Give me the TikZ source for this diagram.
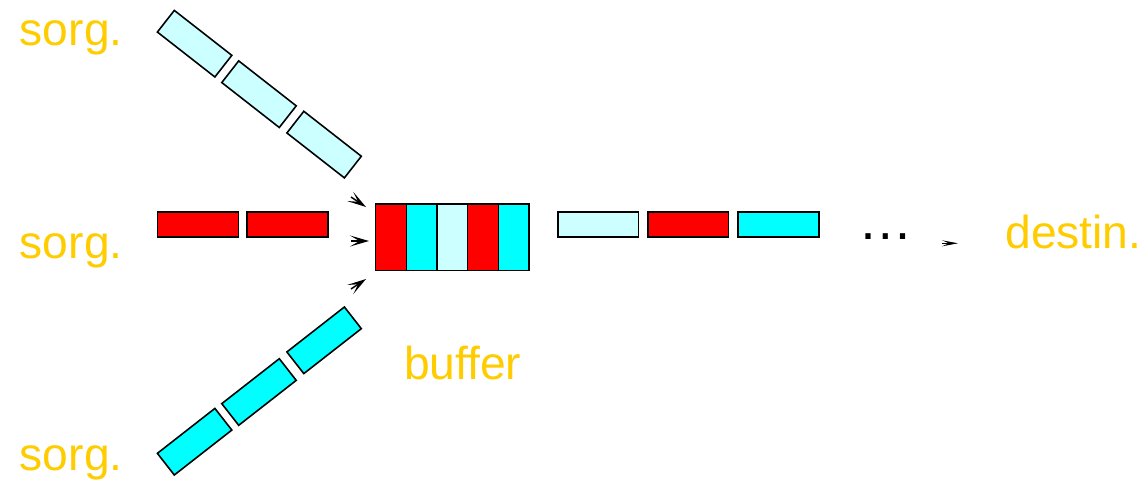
\documentclass[tikz,border=0pt]{standalone}
\usepackage{fontspec}
\setmainfont{Liberation Sans}
\usetikzlibrary{arrows.meta}
\definecolor{lbl}{HTML}{FFCC00}
\definecolor{pktred}{HTML}{FF0000}
\definecolor{pktcyan}{HTML}{00FFFF}
\definecolor{pktlight}{HTML}{CCFFFF}
\begin{document}
\begin{tikzpicture}[x=0.02cm,y=-0.02cm,
  pkt/.style={draw=black, line width=0.9pt, minimum width=1.62cm, minimum height=0.50cm, inner sep=0pt},
  rpkt/.style={draw=black, line width=0.9pt, minimum width=1.46cm, minimum height=0.55cm, inner sep=0pt},
  cell/.style={draw=black, line width=0.9pt, minimum width=0.613cm, minimum height=1.334cm, inner sep=0pt},
  lab/.style={text=lbl, font=\fontsize{26.3}{30}\selectfont, inner sep=0pt, anchor=base west},
  tip/.style={-{Stealth[length=0.38cm,width=0.22cm,inset=0.19cm,line width=0.8pt]}, line width=0.8pt},
  smalltip/.style={-{Stealth[length=0.32cm,width=0.12cm,inset=0.14cm,line width=0.5pt]}, line width=0.5pt}]
\useasboundingbox (0,0) rectangle (1145,480);

% labels
\node[lab] (s1) at (19.5,45) {sorg.};
\node[lab] (s2) at (19.5,258.3) {sorg.};
\node[lab] (s3) at (19.5,470) {sorg.};
\node[lab] (buf) at (403.7,379) {buffer};
\node[lab] (dst) at (1005,248.3) {destin.};

% top source packets
\node[rpkt, fill=pktlight, rotate=-38] (t1) at (194.6,43.7) {};
\node[rpkt, fill=pktlight, rotate=-38] (t2) at (259,94.2) {};
\node[rpkt, fill=pktlight, rotate=-38] (t3) at (324.1,144.6) {};

% bottom source packets
\node[rpkt, fill=pktcyan, rotate=38] (u1) at (194.6,441.7) {};
\node[rpkt, fill=pktcyan, rotate=38] (u2) at (259,392) {};
\node[rpkt, fill=pktcyan, rotate=38] (u3) at (324.1,340.3) {};

% middle source packets
\node[pkt, fill=pktred] (m1) at (198,224.3) {};
\node[pkt, fill=pktred] (m2) at (287.5,224.3) {};

% buffer
\node[cell, fill=pktred] (b1) at (391.0,237.35) {};
\node[cell, fill=pktcyan] (b2) at (421.7,237.35) {};
\node[cell, fill=pktlight] (b3) at (452.3,237.35) {};
\node[cell, fill=pktred] (b4) at (483.0,237.35) {};
\node[cell, fill=pktcyan] (b5) at (513.7,237.35) {};

% output packets
\node[pkt, fill=pktlight] (o1) at (598.2,224.3) {};
\node[pkt, fill=pktred] (o2) at (688.2,224.3) {};
\node[pkt, fill=pktcyan] (o3) at (778.5,224.3) {};

% dots
\node[inner sep=0pt, anchor=base west] (dots) at (858.5,239.5) {\fontsize{31}{31}\selectfont …};

% arrowheads
\coordinate (a1s) at (351,197);
\coordinate (a1e) at (366,207);
\coordinate (a2s) at (351,241);
\coordinate (a2e) at (369,241);
\coordinate (a3s) at (351,289);
\coordinate (a3e) at (366,279);
\coordinate (a4s) at (942,243.3);
\coordinate (a4e) at (958,243.3);
\draw[tip] (a1s) -- (a1e);
\draw[tip] (a2s) -- (a2e);
\draw[tip] (a3s) -- (a3e);
\draw[smalltip] (a4s) -- (a4e);
\end{tikzpicture}
\end{document}
